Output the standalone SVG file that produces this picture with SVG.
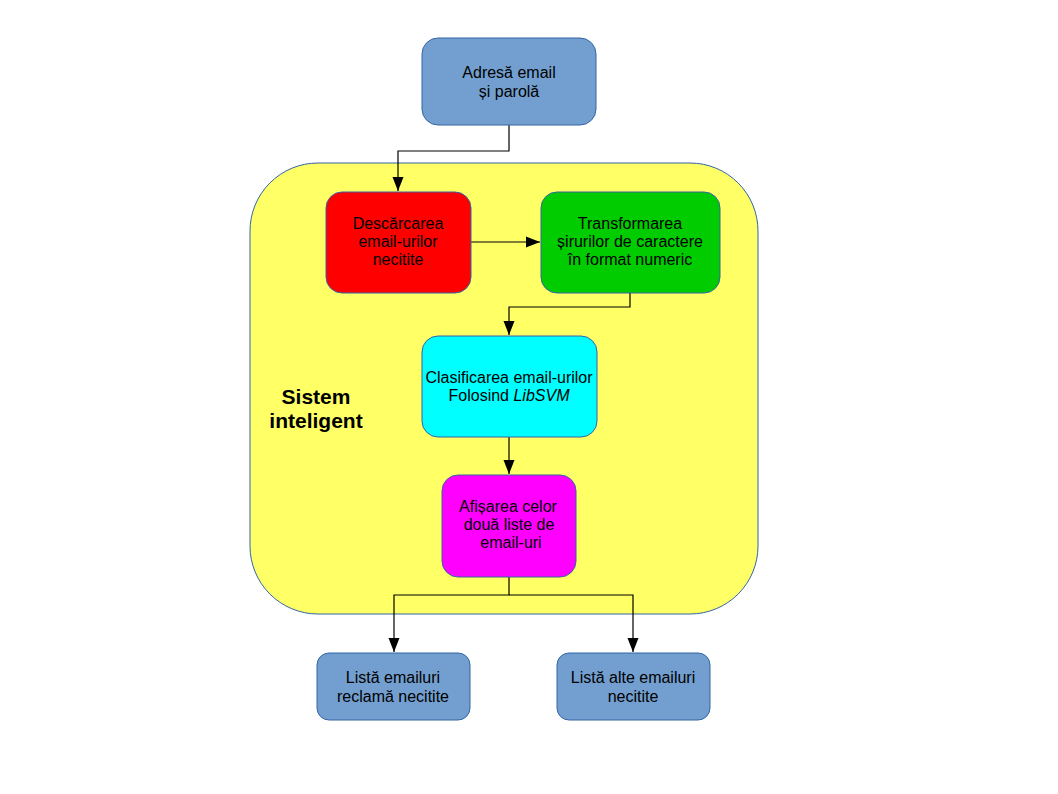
<svg xmlns="http://www.w3.org/2000/svg" width="1058" height="794" viewBox="0 0 1058 794">
<style>
.n{stroke:#3465a4;stroke-width:1}
.t{font-family:"Liberation Sans",Arial,sans-serif;font-size:16px;fill:#000;text-anchor:middle}
.b{font-family:"Liberation Sans",Arial,sans-serif;font-size:21px;font-weight:bold;fill:#000;text-anchor:middle}
.c{fill:none;stroke:#000;stroke-width:1.2}
</style>
<defs>
<marker id="a" viewBox="0 0 14 12" refX="14" refY="6" markerWidth="14" markerHeight="12" markerUnits="userSpaceOnUse" orient="auto">
<path d="M0,0.5 L14,6 L0,11.5 Z" fill="#000"/>
</marker>
</defs>
<rect width="1058" height="794" fill="#fff"/>
<g id="container">
<rect class="n" x="250" y="163" width="508" height="451" rx="68" ry="68" fill="#ffff66"/>
<text class="b" x="316" y="404">Sistem</text>
<text class="b" x="316" y="428">inteligent</text>
</g>
<g id="connectors">
<path class="c" d="M509,125 V151 H398 V191" marker-end="url(#a)"/>
<path class="c" d="M471,242 H540" marker-end="url(#a)"/>
<path class="c" d="M630,293 V307 H509 V335" marker-end="url(#a)"/>
<path class="c" d="M509,437 V474" marker-end="url(#a)"/>
<path class="c" d="M509,577 V595 H394 V652" marker-end="url(#a)"/>
<path class="c" d="M509,595 H633 V652" marker-end="url(#a)"/>
</g>
<g id="n1">
<rect class="n" x="422" y="38" width="174" height="87" rx="16" fill="#729fcf"/>
<text class="t" x="509" y="78">Adresă email</text>
<text class="t" x="509" y="97">și parolă</text>
</g>
<g id="n2">
<rect class="n" x="326" y="192" width="145" height="101" rx="16" fill="#ff0000"/>
<text class="t" x="398" y="229">Descărcarea</text>
<text class="t" x="398" y="247">email-urilor</text>
<text class="t" x="398" y="265">necitite</text>
</g>
<g id="n3">
<rect class="n" x="541" y="192" width="179" height="101" rx="16" fill="#00cc00"/>
<text class="t" x="630" y="229">Transformarea</text>
<text class="t" x="630" y="247">șirurilor de caractere</text>
<text class="t" x="630" y="265">în format numeric</text>
</g>
<g id="n4">
<rect class="n" x="422" y="336" width="175" height="101" rx="16" fill="#00ffff"/>
<text class="t" x="509" y="383">Clasificarea email-urilor</text>
<text class="t" x="509" y="401">Folosind <tspan font-style="italic">LibSVM</tspan></text>
</g>
<g id="n5">
<rect class="n" x="442" y="475" width="134" height="102" rx="16" fill="#ff00ff"/>
<text class="t" x="508" y="512">Afișarea celor</text>
<text class="t" x="509" y="530">două liste de</text>
<text class="t" x="511" y="548">email-uri</text>
</g>
<g id="n6">
<rect class="n" x="317" y="653" width="153" height="67" rx="12" fill="#729fcf"/>
<text class="t" x="393" y="683">Listă emailuri</text>
<text class="t" x="393" y="702">reclamă necitite</text>
</g>
<g id="n7">
<rect class="n" x="557" y="653" width="153" height="67" rx="12" fill="#729fcf"/>
<text class="t" x="633" y="683">Listă alte emailuri</text>
<text class="t" x="633" y="702">necitite</text>
</g>
</svg>
